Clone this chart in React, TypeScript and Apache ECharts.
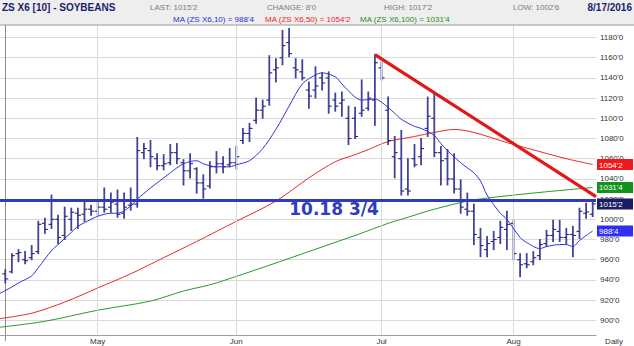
import React, { useEffect, useRef } from 'react';
import * as echarts from 'echarts';

// ---------- data ----------
const monthLabels = ['May', 'Jun', 'Jul', 'Aug'];
const monthStartIdx = [14, 35, 57, 77];

const opens = [
  946, 948, 966, 960, 962, 968, 996, 995, 1000, 984,
  1000, 1006, 1005, 1010, 1008, 1012, 1012, 1015, 1006, 1014,
  1015, 1066, 1068, 1060, 1053, 1056, 1066, 1056, 1048, 1050,
  1036, 1033, 1052, 1055, 1054, 1056, 1078, 1085, 1098, 1108,
  1118, 1148, 1160, 1175, 1150, 1146, 1128, 1128, 1140, 1140,
  1118, 1115, 1100, 1100, 1105, 1110, 1118, 1150, 1108, 1062,
  1060, 1030, 1060, 1062, 1090, 1100, 1066, 1060, 1040, 1030,
  1010, 1008, 982, 970, 978, 982, 990, 996, 960, 956,
  958, 964, 976, 984, 988, 982, 985, 988, 1006, 1005,
];
const highs = [
  950, 966, 970, 968, 974, 998, 1001, 1024, 1004, 1012,
  1011, 1011, 1019, 1014, 1019, 1031, 1026, 1029, 1026, 1031,
  1081, 1075, 1078, 1065, 1064, 1074, 1075, 1059, 1065, 1051,
  1044, 1057, 1067, 1062, 1070, 1072, 1090, 1095, 1120, 1118,
  1162, 1159, 1187, 1189, 1159, 1158, 1136, 1151, 1145, 1146,
  1125, 1126, 1112, 1111, 1138, 1126, 1163, 1156, 1121, 1082,
  1088, 1060, 1074, 1080, 1121, 1125, 1072, 1069, 1065, 1039,
  1026, 1015, 991, 983, 988, 998, 1008, 999, 966, 966,
  968, 980, 989, 999, 999, 991, 993, 1011, 1016, 1017.25,
];
const lows = [
  937, 947, 958, 956, 960, 966, 986, 991, 976, 980,
  989, 991, 998, 1004, 1004, 1007, 1007, 1002, 1001, 1009,
  1012, 1060, 1052, 1049, 1049, 1054, 1055, 1034, 1041, 1026,
  1021, 1031, 1046, 1046, 1052, 1050, 1075, 1077, 1095, 1100,
  1113, 1136, 1153, 1161, 1140, 1138, 1110, 1120, 1128, 1105,
  1107, 1102, 1074, 1080, 1102, 1108, 1093, 1138, 1074, 1041,
  1024, 1024, 1052, 1054, 1082, 1062, 1034, 1034, 1026, 1006,
  1004, 975, 963, 963, 970, 976, 970, 960, 943, 952,
  955, 960, 973, 978, 978, 976, 963, 981, 1001, 1002.75,
];
const closes = [
  941, 964, 967, 959, 966, 995, 990, 1000, 982, 1003,
  1007, 1004, 1010, 1008, 1012, 1010, 1017, 1005, 1012, 1015,
  1068, 1070, 1062, 1053, 1055, 1066, 1060, 1048, 1055, 1036,
  1030, 1052, 1055, 1052, 1056, 1062, 1085, 1090, 1108, 1112,
  1145, 1150, 1172, 1164, 1148, 1140, 1122, 1132, 1135, 1112,
  1112, 1118, 1080, 1082, 1108, 1120, 1155, 1140, 1078, 1066,
  1028, 1028, 1054, 1070, 1102, 1066, 1058, 1040, 1030, 1012,
  1008, 985, 974, 976, 980, 992, 995, 966, 955, 955,
  962, 975, 984, 990, 982, 985, 984, 1008, 1007.25, 1015.25,
];

// moving averages: [bar index, value]
const ma10 = [
  [-1, 926], [1, 933], [2, 937], [4, 944], [5, 952], [7, 969], [8, 975], [10, 987], [11, 993],
  [13, 1000], [14, 1003], [16, 1006], [17, 1006], [19, 1013], [20, 1020], [22, 1031], [23, 1036],
  [25, 1046], [27, 1055], [29, 1058], [30, 1055], [32, 1052], [34, 1052], [35, 1054], [37, 1058],
  [39, 1070], [41, 1089], [43, 1112], [45, 1134], [47, 1143], [48, 1145], [50, 1141], [51, 1134],
  [53, 1121], [54, 1118], [56, 1119], [57, 1116], [59, 1105], [60, 1099], [62, 1092], [63, 1090],
  [65, 1083], [66, 1075], [67, 1068], [69, 1056], [70, 1051], [71, 1046], [72, 1038], [73, 1024],
  [75, 1006], [76, 1000], [78, 982], [79, 977], [81, 971], [82, 973], [84, 975], [85, 975],
  [86, 973], [87, 979], [89, 988.5],
];
const ma50 = [
  [-1, 901.5], [4, 907], [9, 918], [14, 932], [19, 946], [24, 962], [29, 978], [32, 988],
  [35, 998], [41, 1018], [46, 1041], [50, 1057], [53, 1064], [55, 1069], [58, 1077], [62, 1082],
  [65, 1086], [68, 1089], [71, 1086], [76, 1076], [81, 1067], [85, 1060], [89, 1054.25],
];
const ma100 = [
  [-1, 893], [6, 899], [14, 910], [22, 919], [27, 929], [32, 937], [53, 984], [58, 996],
  [60, 1000], [65, 1010], [70, 1018], [73, 1021], [80, 1026], [89, 1031.5],
];

const trendStart = [56, 1163];
const trendEnd = [89.5, 1022.5];
const supportLevel = 1018.75;
const supportText = '10.18 3/4';

const lastValues = [1054.25, 1031.5, 1015.25, 988.5];

const headerTitle = 'ZS X6 [10] - SOYBEANS';
const headerLast = "LAST: 1015'2";
const headerChange = "CHANGE: 8'0";
const headerHigh = "HIGH: 1017'2";
const headerLow = "LOW: 1002'6";
const headerDate = '8/17/2016';
const maLegend = ["MA (ZS X6,10) = 988'4", "MA (ZS X6,50) = 1054'2", "MA (ZS X6,100) = 1031'4"];

// ---------- helpers ----------
const FONT = '"Liberation Sans", Arial, sans-serif';
const fmtEighths = (v: number) => {
  const whole = Math.floor(v);
  const e = Math.round((v - whole) * 8);
  return `${whole}'${e}`;
};

export default function App() {
  const ref = useRef<HTMLDivElement>(null);

  useEffect(() => {
    if (!ref.current) return;
    const chart = echarts.init(ref.current, null, { renderer: 'svg' });

    const ohlc = opens.map((o, i) => [i, o, highs[i], lows[i], closes[i]]);
    const boxColors = ['#f01818', '#14921e', '#1b1b66', '#2f2ff5'];

    const option: any = {
      animation: false,
      grid: { left: 0, right: 38, top: 17.3, bottom: 5.5, containLabel: false },
      xAxis: {
        type: 'value',
        min: -0.8,
        max: 89.5,
        offset: -5.5,
        axisLine: { show: true, lineStyle: { color: '#a0a0a0', width: 1 } },
        axisTick: { show: false },
        splitLine: { show: false },
        axisLabel: {
          customValues: monthStartIdx,
          formatter: (v: number) => monthLabels[monthStartIdx.indexOf(v)] ?? '',
          fontSize: 8,
          fontFamily: FONT,
          color: '#333',
          margin: 2,
        },
      },
      yAxis: {
        type: 'value',
        position: 'right',
        min: 880,
        max: 1200,
        interval: 20,
        axisLine: { show: true, lineStyle: { color: '#8c8c8c', width: 1 } },
        axisTick: { show: false },
        axisLabel: {
          fontSize: 8,
          fontFamily: FONT,
          color: '#333',
          margin: 4,
          formatter: (v: number) => (v <= 880 || v >= 1200 ? '' : `${v}'0`),
        },
        splitLine: {
          show: true,
          showMinLine: false,
          showMaxLine: false,
          lineStyle: { color: '#dadada', width: 1 },
        },
      },
      series: [
        {
          // vertical month grid lines
          type: 'line',
          data: [],
          z: 1,
          silent: true,
          markLine: {
            silent: true,
            symbol: ['none', 'none'],
            label: { show: false },
            lineStyle: { color: '#dadada', width: 1, type: 'solid' },
            data: monthStartIdx.map((v) => [{ coord: [v, 885.4] }, { coord: [v, 1200] }]),
          },
        },
        {
          type: 'line',
          data: ma100,
          showSymbol: false,
          smooth: 0.3,
          z: 3,
          lineStyle: { color: '#2a9a2a', width: 1 },
        },
        {
          type: 'line',
          data: ma50,
          showSymbol: false,
          smooth: 0.3,
          z: 3,
          lineStyle: { color: '#e82a2a', width: 1 },
        },
        {
          type: 'custom',
          z: 4,
          data: ohlc,
          encode: { x: 0, y: [1, 2, 3, 4] },
          renderItem: (params: any, api: any) => {
            const x = api.value(0);
            const o = api.coord([x, api.value(1)]);
            const h = api.coord([x, api.value(2)]);
            const l = api.coord([x, api.value(3)]);
            const c = api.coord([x, api.value(4)]);
            const col = '#43439a';
            const tick = '#2a2a66';
            return {
              type: 'group',
              children: [
                { type: 'line', shape: { x1: h[0], y1: h[1] - 0.5, x2: l[0], y2: l[1] + 0.5 }, style: { stroke: col, lineWidth: 1.8 } },
                { type: 'line', shape: { x1: o[0] - 3, y1: o[1], x2: o[0], y2: o[1] }, style: { stroke: tick, lineWidth: 1.1 } },
                { type: 'line', shape: { x1: c[0], y1: c[1], x2: c[0] + 3, y2: c[1] }, style: { stroke: tick, lineWidth: 1.1 } },
              ],
            };
          },
        },
        {
          type: 'line',
          data: ma10,
          showSymbol: false,
          smooth: 0.3,
          z: 5,
          lineStyle: { color: '#3232dc', width: 1 },
          markLine: {
            silent: true,
            symbol: ['none', 'none'],
            label: { show: false },
            lineStyle: { color: '#2c3cc0', width: 3, type: 'solid' },
            data: [{ yAxis: supportLevel }],
          },
        },
        {
          type: 'line',
          data: [],
          z: 6,
          markLine: {
            silent: true,
            symbol: ['none', 'none'],
            label: { show: false },
            lineStyle: { color: '#e01818', width: 3.2, type: 'solid' },
            data: [[{ coord: trendStart }, { coord: trendEnd }]],
          },
        },
        {
          type: 'custom',
          z: 10,
          clip: false,
          data: lastValues.map((v, k) => [89, v, k]),
          renderItem: (params: any, api: any) => {
            const p = api.coord([api.value(0), api.value(1)]);
            const cs = params.coordSys;
            const xr = cs.x + cs.width;
            const k = api.value(2);
            return {
              type: 'group',
              children: [
                { type: 'rect', shape: { x: xr + 1, y: p[1] - 5.5, width: 36, height: 11 }, style: { fill: boxColors[k] } },
                {
                  type: 'text',
                  x: xr + 3,
                  y: p[1] + 0.5,
                  style: { text: fmtEighths(lastValues[k]), fill: '#ffffff', fontSize: 8, fontFamily: FONT, verticalAlign: 'middle', align: 'left' },
                },
              ],
            };
          },
        },
      ],
      graphic: [
        { type: 'rect', z: 100, shape: { x: 0, y: 0, width: 634, height: 25 }, style: { fill: '#eeeeee' } },
        { type: 'line', z: 101, shape: { x1: 0, y1: 25, x2: 634, y2: 25 }, style: { stroke: '#9a9a9a', lineWidth: 1 } },
        { type: 'text', z: 102, x: 2, y: 7, style: { text: headerTitle, fill: '#1c1c6e', font: `bold 10px ${FONT}`, verticalAlign: 'middle' } },
        { type: 'text', z: 102, x: 150, y: 7, style: { text: headerLast, fill: '#7a7a7a', font: `8px ${FONT}`, verticalAlign: 'middle' } },
        { type: 'text', z: 102, x: 267, y: 7, style: { text: headerChange, fill: '#7a7a7a', font: `8px ${FONT}`, verticalAlign: 'middle' } },
        { type: 'text', z: 102, x: 384, y: 7, style: { text: headerHigh, fill: '#7a7a7a', font: `8px ${FONT}`, verticalAlign: 'middle' } },
        { type: 'text', z: 102, x: 513, y: 7, style: { text: headerLow, fill: '#7a7a7a', font: `8px ${FONT}`, verticalAlign: 'middle' } },
        { type: 'text', z: 102, x: 632, y: 7, style: { text: headerDate, fill: '#1c1c6e', font: `bold 10px ${FONT}`, verticalAlign: 'middle', align: 'right' } },
        { type: 'text', z: 102, x: 173, y: 19, style: { text: maLegend[0], fill: '#2b2bdd', font: `8px ${FONT}`, verticalAlign: 'middle' } },
        { type: 'text', z: 102, x: 265, y: 19, style: { text: maLegend[1], fill: '#ee1c1c', font: `8px ${FONT}`, verticalAlign: 'middle' } },
        { type: 'text', z: 102, x: 360, y: 19, style: { text: maLegend[2], fill: '#1d8f1d', font: `8px ${FONT}`, verticalAlign: 'middle' } },
        { type: 'text', z: 50, x: 334, y: 209, style: { text: supportText, fill: '#2e3dbd', font: `bold 17px "DejaVu Sans", Verdana, sans-serif`, verticalAlign: 'middle', align: 'center' } },
        { type: 'text', z: 50, x: 614, y: 341, style: { text: 'Daily', fill: '#333', font: `8px ${FONT}`, verticalAlign: 'middle', align: 'center' } },
      ],
    };

    chart.setOption(option);
    return () => chart.dispose();
  }, []);

  return <div ref={ref} style={{ position: 'fixed', left: 0, top: 0, width: 634, height: 346, background: '#ffffff' }} />;
}
